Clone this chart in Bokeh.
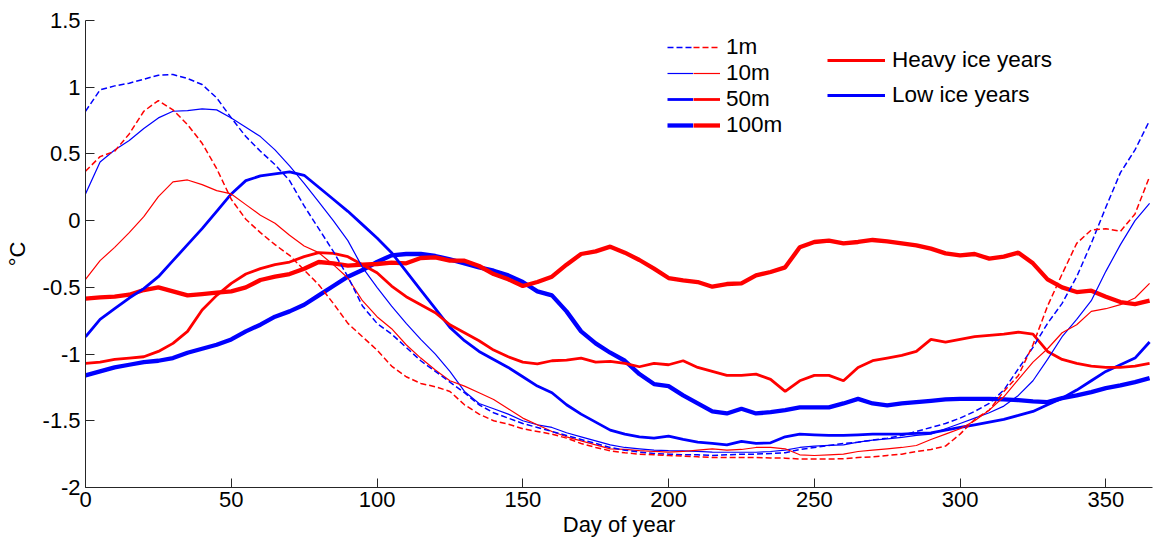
from bokeh.plotting import figure
from bokeh.models import Range1d, FixedTicker, Legend, LegendItem
from bokeh.embed import file_html
from bokeh.resources import INLINE

# ---- data ----
days = list(range(0, 366, 5))  # 0..365

low_1m = [0.82, 0.98, 1.01, 1.03, 1.06, 1.09, 1.095, 1.065, 1.02, 0.92,
          0.77, 0.63, 0.52, 0.42, 0.30, 0.11, -0.06, -0.23, -0.42, -0.64,
          -0.77, -0.85, -0.95, -1.05, -1.13, -1.21, -1.29, -1.38, -1.44, -1.48,
          -1.52, -1.55, -1.58, -1.61, -1.64, -1.67, -1.70, -1.72, -1.735, -1.745,
          -1.75, -1.755, -1.755, -1.76, -1.755, -1.75, -1.75, -1.745, -1.74, -1.715,
          -1.70, -1.685, -1.67, -1.66, -1.645, -1.63, -1.61, -1.58, -1.55, -1.52,
          -1.48, -1.43, -1.37, -1.27, -1.11, -0.95, -0.77, -0.62, -0.42, -0.17,
          0.10, 0.36, 0.53, 0.75]
heavy_1m = [0.37, 0.48, 0.52, 0.65, 0.82, 0.90, 0.83, 0.72, 0.58, 0.39,
            0.16, 0.01, -0.09, -0.18, -0.26, -0.37, -0.48, -0.62, -0.77, -0.87,
            -0.97, -1.09, -1.17, -1.22, -1.245, -1.28, -1.38, -1.45, -1.50, -1.525,
            -1.56, -1.58, -1.60, -1.63, -1.67, -1.70, -1.725, -1.74, -1.75, -1.755,
            -1.76, -1.765, -1.77, -1.775, -1.775, -1.775, -1.775, -1.778, -1.78, -1.786,
            -1.786, -1.786, -1.785, -1.775, -1.77, -1.76, -1.75, -1.73, -1.715, -1.69,
            -1.60, -1.49, -1.42, -1.28, -1.16, -0.93, -0.64, -0.40, -0.17, -0.07,
            -0.06, -0.08, 0.05, 0.33]
low_10m = [0.20, 0.44, 0.53, 0.60, 0.69, 0.77, 0.82, 0.825, 0.838, 0.83,
           0.77, 0.70, 0.63, 0.53, 0.41, 0.28, 0.14, 0.00, -0.15, -0.35,
           -0.50, -0.64, -0.77, -0.89, -1.00, -1.13, -1.28, -1.37, -1.41, -1.45,
           -1.50, -1.53, -1.55, -1.59, -1.62, -1.65, -1.68, -1.70, -1.71, -1.72,
           -1.723, -1.725, -1.73, -1.735, -1.736, -1.736, -1.736, -1.73, -1.72, -1.70,
           -1.69, -1.685, -1.68, -1.66, -1.645, -1.635, -1.624, -1.61, -1.60, -1.56,
           -1.52, -1.48, -1.44, -1.39, -1.31, -1.20, -1.04, -0.87, -0.74, -0.60,
           -0.38, -0.18, 0.00, 0.13]
heavy_10m = [-0.44, -0.30, -0.20, -0.09, 0.03, 0.18, 0.29, 0.305, 0.27, 0.225,
             0.20, 0.12, 0.04, -0.02, -0.11, -0.19, -0.24, -0.33, -0.43, -0.60,
             -0.72, -0.81, -0.93, -1.03, -1.12, -1.20, -1.24, -1.29, -1.34, -1.41,
             -1.48, -1.53, -1.58, -1.62, -1.65, -1.68, -1.71, -1.715, -1.723, -1.73,
             -1.735, -1.73, -1.72, -1.71, -1.72, -1.715, -1.70, -1.70, -1.71, -1.755,
             -1.76, -1.755, -1.75, -1.73, -1.72, -1.71, -1.70, -1.685, -1.64, -1.60,
             -1.56, -1.50, -1.42, -1.32, -1.19, -1.06, -0.96, -0.84, -0.78, -0.68,
             -0.66, -0.63, -0.58, -0.47]
low_50m = [-0.87, -0.74, -0.66, -0.58, -0.51, -0.42, -0.30, -0.18, -0.06, 0.07,
           0.20, 0.30, 0.335, 0.35, 0.365, 0.34, 0.25, 0.16, 0.07, -0.03,
           -0.13, -0.24, -0.38, -0.52, -0.66, -0.80, -0.90, -0.98, -1.04, -1.10,
           -1.17, -1.24, -1.29, -1.38, -1.45, -1.51, -1.57, -1.60, -1.62, -1.63,
           -1.615, -1.64, -1.66, -1.67, -1.68, -1.655, -1.67, -1.665, -1.62, -1.60,
           -1.605, -1.61, -1.61, -1.605, -1.60, -1.60, -1.60, -1.595, -1.59, -1.57,
           -1.55, -1.53, -1.51, -1.49, -1.46, -1.43, -1.38, -1.33, -1.27, -1.20,
           -1.13, -1.08, -1.03, -0.91]
heavy_50m = [-1.07, -1.06, -1.04, -1.03, -1.02, -0.98, -0.92, -0.83, -0.67, -0.56,
             -0.47, -0.40, -0.36, -0.33, -0.31, -0.27, -0.24, -0.245, -0.27, -0.33,
             -0.39, -0.49, -0.57, -0.63, -0.69, -0.78, -0.84, -0.90, -0.97, -1.02,
             -1.06, -1.074, -1.05, -1.045, -1.03, -1.06, -1.055, -1.07, -1.095, -1.07,
             -1.08, -1.05, -1.10, -1.13, -1.16, -1.16, -1.15, -1.19, -1.28, -1.20,
             -1.16, -1.16, -1.20, -1.10, -1.05, -1.03, -1.01, -0.98, -0.89, -0.91,
             -0.89, -0.87, -0.86, -0.85, -0.836, -0.85, -0.98, -1.04, -1.07, -1.09,
             -1.10, -1.10, -1.09, -1.07]
low_100m = [-1.16, -1.13, -1.10, -1.08, -1.06, -1.05, -1.03, -0.99, -0.96, -0.93,
            -0.89, -0.83, -0.78, -0.72, -0.68, -0.63, -0.56, -0.49, -0.42, -0.37,
            -0.31, -0.26, -0.25, -0.25, -0.265, -0.29, -0.32, -0.35, -0.375, -0.41,
            -0.46, -0.53, -0.56, -0.68, -0.83, -0.92, -0.99, -1.05, -1.15, -1.225,
            -1.24, -1.31, -1.37, -1.43, -1.445, -1.41, -1.445, -1.435, -1.42, -1.40,
            -1.40, -1.40, -1.37, -1.336, -1.37, -1.385, -1.37, -1.36, -1.35, -1.34,
            -1.336, -1.336, -1.336, -1.34, -1.345, -1.355, -1.36, -1.33, -1.31, -1.285,
            -1.255, -1.235, -1.21, -1.18]
heavy_100m = [-0.585, -0.575, -0.57, -0.555, -0.52, -0.50, -0.53, -0.56, -0.55, -0.54,
              -0.53, -0.50, -0.445, -0.42, -0.40, -0.36, -0.31, -0.32, -0.337, -0.33,
              -0.325, -0.315, -0.32, -0.28, -0.275, -0.30, -0.30, -0.34, -0.40, -0.44,
              -0.49, -0.46, -0.42, -0.33, -0.25, -0.23, -0.195, -0.24, -0.295, -0.36,
              -0.43, -0.447, -0.46, -0.495, -0.475, -0.47, -0.41, -0.385, -0.35, -0.20,
              -0.16, -0.15, -0.17, -0.16, -0.145, -0.155, -0.17, -0.185, -0.21, -0.245,
              -0.26, -0.25, -0.285, -0.27, -0.24, -0.32, -0.44, -0.50, -0.535, -0.525,
              -0.57, -0.61, -0.625, -0.60]

y_ticks = [-2, -1.5, -1, -0.5, 0, 0.5, 1, 1.5]
y_tick_labels = ["-2", "-1.5", "-1", "-0.5", "0", "0.5", "1", "1.5"]
x_ticks = [0, 50, 100, 150, 200, 250, 300, 350]
depth_labels = ["1m", "10m", "50m", "100m"]
group_labels = ["Heavy ice years", "Low ice years"]

RED = "#FF0000"
BLUE = "#0000FF"
FONT = "Liberation Sans"

p = figure(width=1154, height=546, output_backend="svg", toolbar_location=None,
           x_range=Range1d(0, 366), y_range=Range1d(-2, 1.5),
           min_border_left=85, min_border_right=2, min_border_top=20,
           min_border_bottom=59)
p.outline_line_color = None
p.xgrid.visible = False
p.ygrid.visible = False
p.background_fill_color = "white"
p.border_fill_color = "white"

# depth styles
styles = {
    "1m": dict(line_width=1.5, line_dash="6 3"),
    "10m": dict(line_width=1.2),
    "50m": dict(line_width=2.8),
    "100m": dict(line_width=4.3),
}

low_series = {"1m": low_1m, "10m": low_10m, "50m": low_50m, "100m": low_100m}
heavy_series = {"1m": heavy_1m, "10m": heavy_10m, "50m": heavy_50m, "100m": heavy_100m}

low_r = {}
heavy_r = {}
for d in ["100m", "50m", "10m", "1m"]:
    low_r[d] = p.line(days, low_series[d], color=BLUE, **styles[d])
    heavy_r[d] = p.line(days, heavy_series[d], color=RED, **styles[d])

# axes
for ax in (p.xaxis[0], p.yaxis[0]):
    ax.axis_line_color = "#262626"
    ax.axis_line_width = 1
    ax.major_tick_line_color = "#262626"
    ax.major_tick_in = 9
    ax.major_tick_out = 0
    ax.minor_tick_line_color = None
    ax.major_label_text_font = FONT
    ax.major_label_text_font_size = "22px"
    ax.major_label_text_color = "black"
    ax.axis_label_text_font = FONT
    ax.axis_label_text_font_size = "22px"
    ax.axis_label_text_font_style = "normal"
    ax.axis_label_text_color = "black"

p.xaxis.ticker = FixedTicker(ticks=x_ticks)
p.yaxis.ticker = FixedTicker(ticks=y_ticks)
p.yaxis.major_label_overrides = {t: l for t, l in zip(y_ticks, y_tick_labels)}
p.xaxis.axis_label = "Day of year"
p.yaxis.axis_label = "\u00b0C"
p.xaxis.major_label_standoff = 4
p.xaxis.axis_label_standoff = 2
p.yaxis.major_label_standoff = 5
p.yaxis.axis_label_standoff = 10


def style_legend(leg, font_size="22.5px"):
    leg.padding = 0
    leg.margin = 0
    leg.background_fill_alpha = 0
    leg.border_line_alpha = 0
    leg.label_text_font = FONT
    leg.label_text_font_size = font_size
    leg.label_text_color = "black"
    leg.glyph_height = 26
    leg.label_height = 26


# depth legend: blue left half, red right half with labels
legA = Legend(items=[LegendItem(label=" ", renderers=[low_r[d]]) for d in depth_labels],
              location=(582, 349))
style_legend(legA)
legA.spacing = 0
legA.glyph_width = 26
legA.label_standoff = 0
legA.label_width = 0

legB = Legend(items=[LegendItem(label=d, renderers=[heavy_r[d]]) for d in depth_labels],
              location=(608, 349))
style_legend(legB)
legB.spacing = 0
legB.glyph_width = 27
legB.label_standoff = 6

legC = Legend(items=[LegendItem(label=group_labels[0], renderers=[heavy_r["50m"]]),
                     LegendItem(label=group_labels[1], renderers=[low_r["50m"]])],
              location=(742, 379))
style_legend(legC)
legC.spacing = 9
legC.glyph_width = 58
legC.label_standoff = 7

p.add_layout(legA)
p.add_layout(legB)
p.add_layout(legC)

open("out.html", "w").write(file_html(p, INLINE))
